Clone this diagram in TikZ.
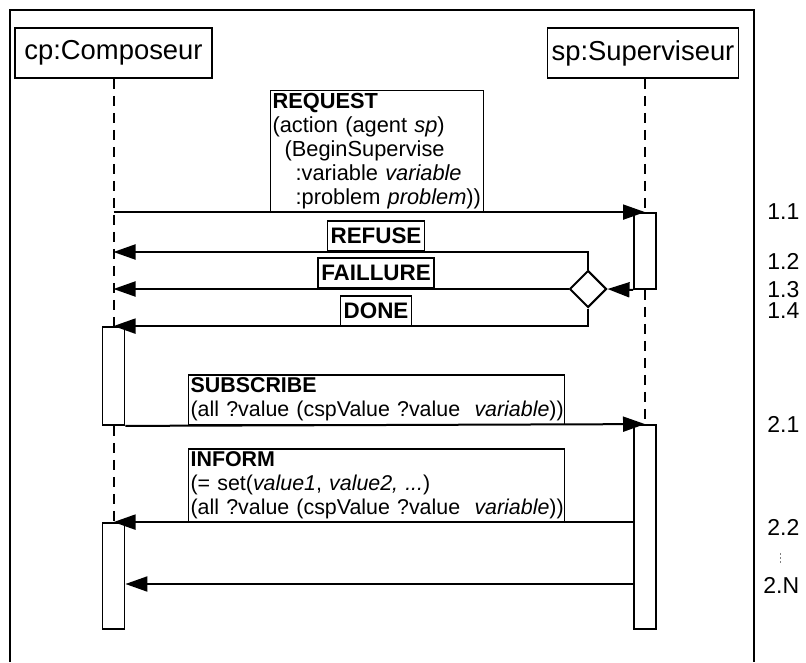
\documentclass[tikz,border=0pt]{standalone}
\usepackage{fontspec}
\setmainfont{Liberation Sans}
\usetikzlibrary{arrows.meta,shapes.geometric}
\hyphenpenalty=10000
\exhyphenpenalty=10000

\begin{document}
\begin{tikzpicture}[x=0.5pt,y=-0.5pt,
  acteur/.style={draw, line width=0.8pt, minimum height=25pt, inner sep=0pt, font=\fontsize{13.7}{16}\selectfont},
  activ/.style={draw, line width=0.9pt, fill=white, minimum width=11pt, inner sep=0pt},
  vie/.style={line width=1pt, dash pattern=on 5pt off 3.5pt},
  msg/.style={line width=1pt, -{Triangle[length=11pt,width=7.5pt]}},
  note/.style={draw, line width=0.6pt, fill=white, align=left, inner xsep=1pt, inner ysep=1.5pt, anchor=south west, font=\fontsize{10.9}{12}\selectfont},
  etiq/.style={draw, line width=0.8pt, fill=white, inner xsep=1.5pt, inner ysep=0pt, minimum height=15pt, anchor=south, font=\fontsize{11.2}{12}\selectfont\bfseries},
  num/.style={anchor=west, inner sep=0pt, font=\fontsize{11.5}{12}\selectfont}]

\useasboundingbox (0,0) rectangle (806,662);

% Cadre du diagramme
\draw[line width=0.6pt] (10,662) -- (10,10) -- (754,10) -- (754,662);

% Les deux agents
\node[acteur, minimum width=98.5pt] (cp) at (113.5,53) {cp:Composeur};
\node[acteur, minimum width=95.5pt] (sp) at (643,53) {sp:Superviseur};

% Barres d'activation
\node[activ, minimum height=49pt] (cpA1) at (113.5,376) {};
\node[activ, minimum height=53pt] (cpA2) at (113.5,576) {};
\node[activ, minimum height=38pt] (spA1) at (645,251) {};
\node[activ, minimum height=102pt] (spA2) at (645,527) {};

% Lignes de vie
\draw[vie] (cp.south) -- (cpA1.north);
\draw[vie] (cpA1.south) -- (cpA2.north);
\draw[vie] (spA1.north |- sp.south) -- (spA1.north);
\draw[vie] (spA1.south) -- (spA2.north);

% Messages du premier echange
\node[note, text width=104.5pt] (request) at (270,213)
  {\textbf{REQUEST}\\(action (agent \textit{sp})\\\hspace*{6pt}(BeginSupervise\\\hspace*{11.5pt}:variable \textit{variable}\\\hspace*{11.5pt}:problem \textit{problem}))};
\draw[msg] (cp.south |- spA1.north) -- (spA1.north);

\node[shape=diamond, draw, line width=1pt, fill=white, aspect=1, minimum width=18.5pt, minimum height=18.5pt, inner sep=0pt] (choix) at (588,289) {};
\draw[msg] (spA1.south west) -- (choix.east);

\coordinate (refY) at (0,252);
\draw[msg] (choix.north) |- (cp.south |- refY);
\draw[msg] (choix.west) -- (cp.south |- choix.west);
\draw[msg] (choix.south) |- (cpA1.north);

\node[etiq] (refuse) at (376,252) {REFUSE};
\node[etiq] (faillure) at (376,289) {FAILLURE};
\node[etiq] (done) at (376,327) {DONE};

% Abonnement et informations
\node[note, text width=186pt, font=\fontsize{10.7}{12}\selectfont] (subscribe) at (188,425)
  {\textbf{SUBSCRIBE}\\\mbox{(all ?value (cspValue ?value\ \ \textit{variable}))}};
\draw[msg] (cpA1.south east) -- (spA2.north);

\node[note, text width=186pt, font=\fontsize{10.7}{12}\selectfont] (inform) at (188,523)
  {\textbf{INFORM}\\(= set(\textit{value1}, \textit{value2, ...})\\\mbox{(all ?value (cspValue ?value\ \ \textit{variable}))}};
\draw[msg] (spA2.west |- cpA2.north) -- (cpA2.north);

\coordinate (derY) at (0,584);
\draw[msg] (spA2.west |- derY) -- (cpA2.east |- derY);

% Numeros des messages
\node[num] (n11) at (767,212) {1.1};
\node[num] (n12) at (767,261) {1.2};
\node[num] (n13) at (767,290) {1.3};
\node[num] (n14) at (767,311) {1.4};
\node[num] (n21) at (767,424) {2.1};
\node[num] (n22) at (767,527) {2.2};
\node[num] (n2N) at (763,585) {2.N};
\draw[gray, line width=0.4pt, dash pattern=on 1pt off 1pt] (780,553) -- (780,563);

\end{tikzpicture}
\end{document}
